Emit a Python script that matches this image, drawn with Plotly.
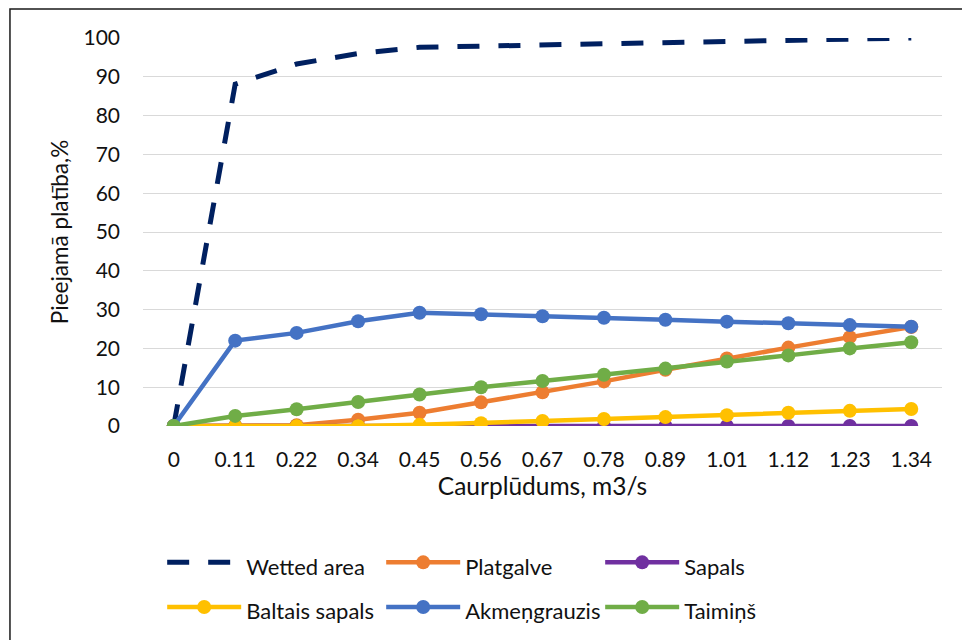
import plotly.graph_objects as go

flow = ["0", "0.11", "0.22", "0.34", "0.45", "0.56", "0.67", "0.78", "0.89", "1.01", "1.12", "1.23", "1.34"]
wetted_area = [0, 88.1, 93.3, 96.0, 97.6, 97.9, 98.2, 98.5, 98.8, 99.1, 99.3, 99.6, 100.0]
platgalve = [0, 0, 0.2, 1.6, 3.4, 6.1, 8.7, 11.5, 14.5, 17.4, 20.2, 22.9, 25.5]
sapals = [0, 0, 0, 0, 0, 0, 0, 0, 0, 0, 0, 0, 0]
baltais_sapals = [0, 0, 0, 0, 0.3, 0.7, 1.3, 1.8, 2.3, 2.8, 3.4, 3.9, 4.4]
akmengrauzis = [0, 22.0, 24.0, 27.0, 29.2, 28.8, 28.3, 27.9, 27.4, 26.9, 26.5, 26.0, 25.6]
taimins = [0, 2.6, 4.3, 6.2, 8.1, 10.0, 11.6, 13.2, 14.8, 16.6, 18.2, 20.0, 21.6]
y_ticks = [0, 10, 20, 30, 40, 50, 60, 70, 80, 90, 100]

FONT = "Lato"
TXT = "#111111"
LEG = '<span style="font-size:22px">{}</span>'

fig = go.Figure()
fig.add_trace(go.Scatter(x=flow, y=wetted_area, name=LEG.format("Wetted area"), mode="lines",
                         line=dict(color="#002060", width=5, dash="22px,19px")))
series = [
    ("Platgalve", platgalve, "#ED7D31"),
    ("Sapals", sapals, "#7030A0"),
    ("Baltais sapals", baltais_sapals, "#FFC000"),
    ("Akmeņgrauzis", akmengrauzis, "#4472C4"),
    ("Taimiņš", taimins, "#70AD47"),
]
for name, vals, col in series:
    fig.add_trace(go.Scatter(x=flow, y=vals, name=LEG.format(name), mode="lines+markers",
                             line=dict(color=col, width=4.5),
                             marker=dict(color=col, size=14)))

fig.update_layout(
    width=962, height=640,
    margin=dict(l=143, r=20, t=38, b=214, autoexpand=False),
    plot_bgcolor="white", paper_bgcolor="white",
    font=dict(family=FONT, size=21, color=TXT),
    showlegend=True,
    legend=dict(orientation="h", x=0.024, xanchor="left", y=-0.281, yanchor="top",
                font=dict(size=32, family=FONT, color=TXT),
                itemwidth=74,
                entrywidth=130, entrywidthmode="pixels", traceorder="normal",
                bgcolor="rgba(0,0,0,0)"),
    xaxis=dict(type="category", range=[-0.5, 12.5], showgrid=False, zeroline=False,
               showline=False, ticks="", ticklabelstandoff=19, automargin=False,
               tickfont=dict(size=21, family=FONT, color=TXT),
               title=dict(text="Caurplūdums, m3/s", font=dict(size=24.5, family=FONT, color=TXT),
                          standoff=6)),
    yaxis=dict(range=[0, 100], tickvals=y_ticks, showgrid=True, gridcolor="#D9D9D9", gridwidth=1.3,
               zeroline=False, showline=False, ticks="", ticklabelstandoff=22, automargin=False,
               tickfont=dict(size=21, family=FONT, color=TXT),
               title=dict(text="Pieejamā platība,%", font=dict(size=22.5, family=FONT, color=TXT),
                          standoff=8)),
    shapes=[dict(type="rect", xref="paper", yref="paper",
                 x0=-0.1665, x1=1.04, y0=-0.6, y1=1.0747,
                 line=dict(color="#1a1a1a", width=1.5), layer="below")],
)

fig.write_html("out.html")
